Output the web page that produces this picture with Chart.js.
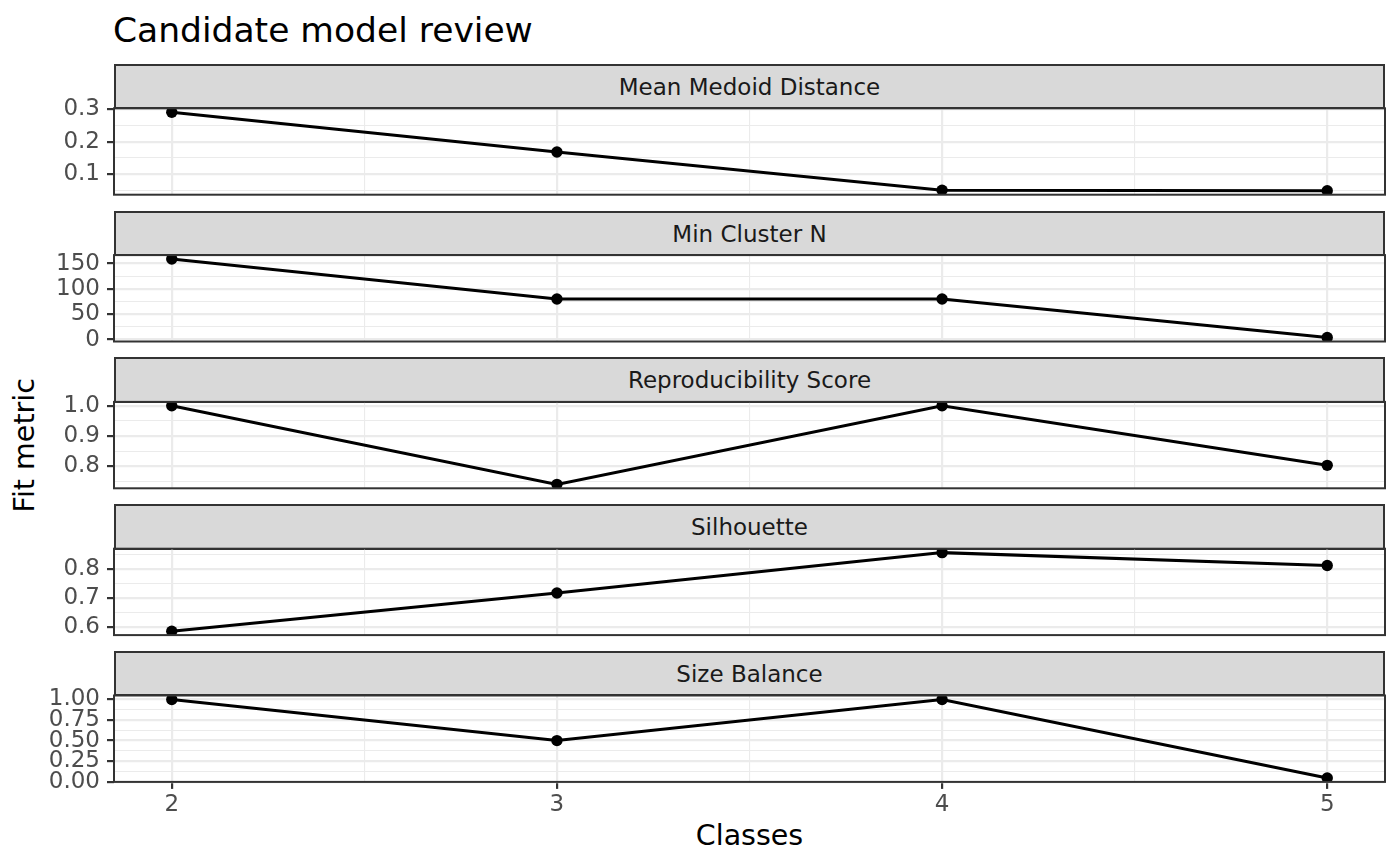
<!DOCTYPE html>
<html>
<head>
<meta charset="utf-8">
<title>Candidate model review</title>
<script src="https://cdn.jsdelivr.net/npm/chart.js@4.4.1/dist/chart.umd.min.js"></script>
<style>
  body { margin: 0; background: #fff; width: 1400px; height: 866px; overflow: hidden; position: relative; font-family: "DejaVu Sans", sans-serif; }
  canvas { position: absolute; left: 0; top: 0; }
  .strip { position: absolute; left: 114px; width: 1271px; box-sizing: border-box; background: #d9d9d9; border: 2px solid #333; color: #1a1a1a; font-size: 23px; text-align: center; white-space: nowrap; overflow: hidden; }
  .title { position: absolute; left: 113px; top: 12.5px; font-size: 34.5px; line-height: 1; color: #000; white-space: nowrap; }
  .xlab { position: absolute; left: 114px; width: 1271px; top: 821.9px; font-size: 28.5px; line-height: 1; text-align: center; color: #000; }
  .ylab { position: absolute; left: -124.85px; top: 430.75px; width: 300px; height: 28.5px; line-height: 28.5px; font-size: 28.5px; text-align: center; color: #000; transform: rotate(-90deg); }
</style>
</head>
<body>
<div class="title">Candidate model review</div>
<div class="xlab">Classes</div>
<div class="ylab">Fit metric</div>
<div id="strips"></div>

<script>
// data
const classes = [2, 3, 4, 5];
const meanMedoidDistance = [0.290, 0.168, 0.051, 0.0495];
const minClusterN = [159, 80, 80, 4];
const reproducibilityScore = [1.0, 0.74, 1.0, 0.803];
const silhouette = [0.585, 0.716, 0.855, 0.811];
const sizeBalance = [1.0, 0.5, 1.0, 0.046];

const panelTitles = ["Mean Medoid Distance", "Min Cluster N", "Reproducibility Score", "Silhouette", "Size Balance"];
const panelValues = [meanMedoidDistance, minClusterN, reproducibilityScore, silhouette, sizeBalance];

const xTicks = [2, 3, 4, 5];
const yTicks1 = [0.1, 0.2, 0.3];
const yLabels1 = ["0.1", "0.2", "0.3"];
const yTicks2 = [0, 50, 100, 150];
const yLabels2 = ["0", "50", "100", "150"];
const yTicks3 = [0.8, 0.9, 1.0];
const yLabels3 = ["0.8", "0.9", "1.0"];
const yTicks4 = [0.6, 0.7, 0.8];
const yLabels4 = ["0.6", "0.7", "0.8"];
const yTicks5 = [0, 0.25, 0.5, 0.75, 1.0];
const yLabels5 = ["0.00", "0.25", "0.50", "0.75", "1.00"];
const panelTicks = [yTicks1, yTicks2, yTicks3, yTicks4, yTicks5];
const panelLabels = [yLabels1, yLabels2, yLabels3, yLabels4, yLabels5];

// layout (pixels)
const W = 1400, H = 866;
const firstStrip = 63.7, step = 146.8, stripH = 44.6, plotH = 86.4;
const xAxisH = 40;

const tickFont = { family: "DejaVu Sans", size: 23 };
const round = v => Math.round(v * 1e6) / 1e6;
const isIn = (v, arr) => arr.some(t => Math.abs(t - v) < 1e-9);

// ggplot style limits: 5% padding each side
function expand(lo, hi) {
  const d = hi - lo;
  return [lo - 0.05 * d, hi + 0.05 * d];
}

// majors + midpoints (minor grid)
function gridValues(major, lo, hi) {
  const s = major[1] - major[0];
  const out = [];
  for (let v = major[0] - s; v <= major[major.length - 1] + s + 1e-9; v += s / 2) {
    const r = round(v);
    if (r >= lo && r <= hi) out.push(r);
  }
  return out;
}

const [xMin, xMax] = expand(Math.min(...classes), Math.max(...classes));
const xGrid = gridValues(xTicks, xMin, xMax);

const panelBorder = {
  id: "panelBorder",
  afterDraw(chart) {
    const a = chart.chartArea, ctx = chart.ctx;
    ctx.save();
    ctx.strokeStyle = "#333333";
    ctx.lineWidth = 2;
    ctx.strokeRect(a.left, a.top, a.right - a.left, a.bottom - a.top);
    ctx.restore();
  }
};

const stripBox = document.getElementById("strips");

panelValues.forEach((vals, i) => {
  const last = i === panelValues.length - 1;
  const stripTop = firstStrip + i * step;
  const plotTop = stripTop + stripH;
  const plotBottom = plotTop + plotH;

  const strip = document.createElement("div");
  strip.className = "strip";
  strip.style.top = stripTop + "px";
  strip.style.height = (stripH + 1) + "px";
  strip.style.lineHeight = "42.5px";
  strip.textContent = panelTitles[i];
  stripBox.appendChild(strip);

  const canvas = document.createElement("canvas");
  canvas.width = W;
  canvas.height = H;
  document.body.appendChild(canvas);

  const ticks = panelTicks[i], labels = panelLabels[i];
  const [yMin, yMax] = expand(Math.min(...vals), Math.max(...vals));
  const yGrid = gridValues(ticks, yMin, yMax);

  new Chart(canvas, {
    type: "line",
    data: {
      datasets: [{
        data: classes.map((c, k) => ({ x: c, y: vals[k] })),
        borderColor: "#000",
        borderWidth: 3,
        pointRadius: 5.7,
        pointBackgroundColor: "#000",
        pointBorderWidth: 0,
        tension: 0,
        clip: 0
      }]
    },
    options: {
      responsive: false,
      animation: false,
      events: [],
      layout: { padding: { left: 0, right: W - 1385, top: plotTop, bottom: H - plotBottom - (last ? xAxisH : 0) } },
      plugins: { legend: { display: false }, tooltip: { enabled: false } },
      scales: {
        x: {
          type: "linear",
          min: xMin,
          max: xMax,
          afterBuildTicks: s => { s.ticks = xGrid.map(v => ({ value: v })); },
          afterFit: s => { if (last) s.height = xAxisH; },
          border: { display: false },
          grid: {
            color: "#ebebeb",
            lineWidth: c => (c.tick && isIn(c.tick.value, xTicks) ? 2.2 : 1.1),
            drawTicks: last,
            tickLength: 7,
            tickWidth: 2.2,
            tickColor: c => (c.tick && isIn(c.tick.value, xTicks) ? "#333333" : "rgba(0,0,0,0)")
          },
          ticks: {
            display: last,
            autoSkip: false,
            maxRotation: 0,
            padding: 2,
            color: "#4d4d4d",
            font: tickFont,
            callback: v => (isIn(v, xTicks) ? String(v) : "")
          }
        },
        y: {
          type: "linear",
          min: yMin,
          max: yMax,
          afterBuildTicks: s => { s.ticks = yGrid.map(v => ({ value: v })); },
          afterFit: s => { s.width = 114; },
          border: { display: false },
          grid: {
            color: "#ebebeb",
            lineWidth: c => (c.tick && isIn(c.tick.value, ticks) ? 2.2 : 1.1),
            tickLength: 7,
            tickWidth: 2.2,
            tickColor: c => (c.tick && isIn(c.tick.value, ticks) ? "#333333" : "rgba(0,0,0,0)")
          },
          ticks: {
            autoSkip: false,
            padding: 7,
            color: "#4d4d4d",
            font: tickFont,
            callback: v => {
              const k = ticks.findIndex(t => Math.abs(t - v) < 1e-9);
              return k >= 0 ? labels[k] : "";
            }
          }
        }
      }
    },
    plugins: [panelBorder]
  });
});
</script>
</body>
</html>
